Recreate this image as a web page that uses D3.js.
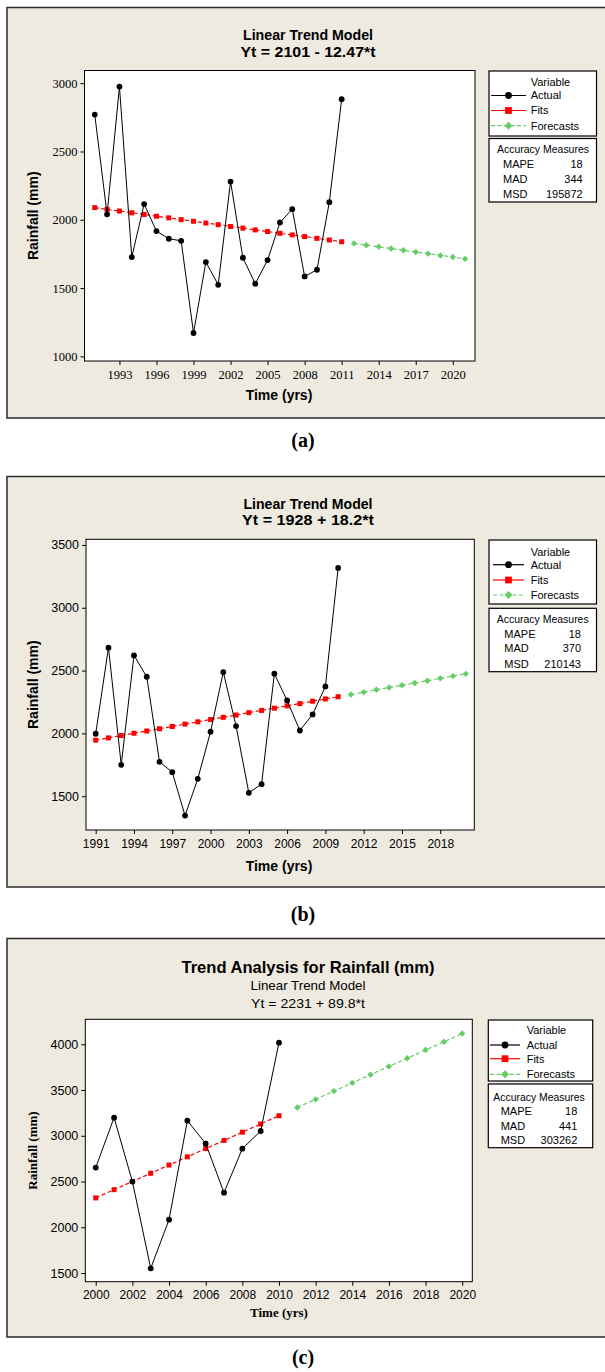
<!DOCTYPE html>
<html><head><meta charset="utf-8">
<script src="https://cdn.jsdelivr.net/npm/d3@7"></script>
<style>body{margin:0;background:#fff} svg{display:block}</style>
</head><body>
<svg id="chart" width="605" height="1372"></svg>
<script>
// ---------------- DATA ----------------
// Panel (a)
const yearsActualA = [1991,1992,1993,1994,1995,1996,1997,1998,1999,2000,2001,2002,2003,2004,2005,2006,2007,2008,2009,2010,2011];
const actualA = [2770,2040,2975,1727,2115,1917,1861,1846,1171,1690,1524,2280,1722,1532,1705,1980,2078,1585,1634,2129,2883];
const fitsA = [2089,2076,2064,2051,2039,2026,2014,2001,1989,1976,1964,1951,1939,1926,1914,1901,1889,1877,1864,1852,1839];
const yearsForecastA = [2012,2013,2014,2015,2016,2017,2018,2019,2020,2021];
const forecastsA = [1827,1814,1802,1789,1777,1764,1752,1739,1727,1714];
const xTicksA = [1993,1996,1999,2002,2005,2008,2011,2014,2017,2020];
const yTicksA = [1000,1500,2000,2500,3000];
const titleA = ["Linear Trend Model", "Yt = 2101 - 12.47*t"];
const accuracyNamesA = ["MAPE","MAD","MSD"];
const accuracyValuesA = ["18","344","195872"];

// Panel (b)
const yearsActualB = [1991,1992,1993,1994,1995,1996,1997,1998,1999,2000,2001,2002,2003,2004,2005,2006,2007,2008,2009,2010];
const actualB = [1997,2682,1750,2621,2451,1774,1691,1346,1638,2013,2488,2058,1527,1596,2475,2262,2023,2151,2374,3317];
const fitsB = [1946,1964,1983,2001,2019,2037,2055,2074,2092,2110,2128,2146,2165,2183,2201,2219,2237,2256,2274,2292];
const yearsForecastB = [2011,2012,2013,2014,2015,2016,2017,2018,2019,2020];
const forecastsB = [2310,2328,2347,2365,2383,2401,2419,2438,2456,2474];
const xTicksB = [1991,1994,1997,2000,2003,2006,2009,2012,2015,2018];
const yTicksB = [1500,2000,2500,3000,3500];
const titleB = ["Linear Trend Model", "Yt = 1928 + 18.2*t"];
const accuracyNamesB = ["MAPE","MAD","MSD"];
const accuracyValuesB = ["18","370","210143"];

// Panel (c)
const yearsActualC = [2000,2001,2002,2003,2004,2005,2006,2007,2008,2009,2010];
const actualC = [2652,3198,2499,1551,2083,3165,2914,2378,2859,3052,4018];
const fitsC = [2321,2411,2500,2590,2680,2770,2860,2949,3039,3129,3219];
const yearsForecastC = [2011,2012,2013,2014,2015,2016,2017,2018,2019,2020];
const forecastsC = [3309,3398,3488,3578,3668,3758,3847,3937,4027,4117];
const xTicksC = [2000,2002,2004,2006,2008,2010,2012,2014,2016,2018,2020];
const yTicksC = [1500,2000,2500,3000,3500,4000];
const titleC = ["Trend Analysis for Rainfall (mm)", "Linear Trend Model", "Yt = 2231 + 89.8*t"];
const accuracyNamesC = ["MAPE","MAD","MSD"];
const accuracyValuesC = ["18","441","303262"];

const seriesNames = ["Actual","Fits","Forecasts"];
const panelLetters = ["(a)","(b)","(c)"];
const yAxisTitle = "Rainfall (mm)";
const xAxisTitle = "Time (yrs)";

// ---------------- STYLE ----------------
const BEIGE = "#EEEAE0";
const RED = "#FF0000";
const GREEN = "#66CC66";
const SANS = "'Liberation Sans', Arial, sans-serif";
const SERIF = "'Liberation Serif', 'Times New Roman', serif";

const svg = d3.select("#chart");

function diamond(h){ return `M0,${-h}L${h},0L0,${h}L${-h},0Z`; }

function drawPanel(p){
  const g = svg.append("g");
  // frame
  g.append("rect").attr("x",7).attr("y",p.frame[0]).attr("width",606).attr("height",p.frame[1]-p.frame[0])
    .attr("fill",BEIGE).attr("stroke","#2b2b2b").attr("stroke-width",1.5);

  // titles
  p.titles.forEach(t=>{
    g.append("text").attr("x",308).attr("y",t.y).attr("text-anchor","middle")
      .attr("font-family",SANS).attr("font-size",t.size).attr("font-weight",t.bold?"bold":"normal")
      .attr("textLength",t.len).attr("lengthAdjust","spacingAndGlyphs")
      .attr("fill","#000").text(t.text);
  });

  const x = d3.scaleLinear().domain(p.xDomain).range([p.plot.x0,p.plot.x1]);
  const y = d3.scaleLinear().domain(p.yDomain).range([p.plot.y1,p.plot.y0]);

  g.append("rect").attr("x",p.plot.x0).attr("y",p.plot.y0)
    .attr("width",p.plot.x1-p.plot.x0).attr("height",p.plot.y1-p.plot.y0).attr("fill","#fff");

  const xa = g.append("g").attr("transform",`translate(0,${p.plot.y1})`)
    .call(d3.axisBottom(x).tickValues(p.xTicks).tickFormat(d3.format("d")).tickSize(4).tickPadding(p.xPad));
  xa.select(".domain").remove();
  xa.selectAll("line").attr("stroke","#000");
  xa.selectAll("text").attr("font-family",p.tickFont).attr("font-size",p.tickSize).attr("fill","#000");

  const ya = g.append("g").attr("transform",`translate(${p.plot.x0},0)`)
    .call(d3.axisLeft(y).tickValues(p.yTicks).tickFormat(d3.format("d")).tickSize(4).tickPadding(p.yPad));
  ya.select(".domain").remove();
  ya.selectAll("line").attr("stroke","#000");
  ya.selectAll("text").attr("font-family",p.tickFont).attr("font-size",p.yTickSize).attr("fill","#000");

  // axis titles
  g.append("text").attr("x",p.xTitle.x).attr("y",p.xTitle.y).attr("text-anchor","middle")
    .attr("font-family",p.axisFont).attr("font-size",p.axisSize).attr("font-weight","bold").text(xAxisTitle);
  g.append("text").attr("transform",`translate(${p.yTitle.x},${(p.plot.y0+p.plot.y1)/2}) rotate(-90)`)
    .attr("text-anchor","middle").attr("font-family",p.axisFont).attr("font-size",p.axisSize)
    .attr("font-weight","bold").text(yAxisTitle);

  const line = d3.line().x(d=>x(d[0])).y(d=>y(d[1]));
  const act = p.actualYears.map((yr,i)=>[yr,p.actual[i]]);
  const fit = p.actualYears.map((yr,i)=>[yr,p.fits[i]]);
  const fc = p.forecastYears.map((yr,i)=>[yr,p.forecasts[i]]);

  g.append("path").datum(fc).attr("d",line).attr("fill","none").attr("stroke",GREEN).attr("stroke-width",1.2).attr("stroke-dasharray","4,2.5");
  g.append("path").datum(fit).attr("d",line).attr("fill","none").attr("stroke",RED).attr("stroke-width",1.2).attr("stroke-dasharray","4,2.5");
  g.selectAll(null).data(fc).enter().append("path").attr("d",diamond(3.2))
    .attr("transform",d=>`translate(${x(d[0])},${y(d[1])})`).attr("fill",GREEN);
  g.selectAll(null).data(fit).enter().append("rect")
    .attr("x",d=>x(d[0])-2.5).attr("y",d=>y(d[1])-2.5).attr("width",5).attr("height",5).attr("fill",RED);
  g.append("path").datum(act).attr("d",line).attr("fill","none").attr("stroke","#000").attr("stroke-width",1);
  g.selectAll(null).data(act).enter().append("circle")
    .attr("cx",d=>x(d[0])).attr("cy",d=>y(d[1])).attr("r",2.9).attr("fill","#000");

  // plot border
  g.append("rect").attr("x",p.plot.x0).attr("y",p.plot.y0)
    .attr("width",p.plot.x1-p.plot.x0).attr("height",p.plot.y1-p.plot.y0)
    .attr("fill","none").attr("stroke","#000").attr("stroke-width",1);

  // legend box 1
  const L = p.legend;
  g.append("rect").attr("x",L.x0).attr("y",L.y0).attr("width",L.x1-L.x0).attr("height",L.h1)
    .attr("fill","#fff").attr("stroke","#000").attr("stroke-width",1.2);
  const lt = (tx,ty,s,anchor)=>g.append("text").attr("x",tx).attr("y",ty+3.9)
    .attr("font-family",SANS).attr("font-size",11).attr("text-anchor",anchor||"start").attr("fill","#000").text(s);
  lt(L.textX, L.y0+L.rows[0], "Variable");
  const colors = ["#000",RED,GREEN];
  seriesNames.forEach((nm,i)=>{
    const ry = L.y0+L.rows[i+1];
    g.append("line").attr("x1",L.lineX0).attr("x2",L.lineX1).attr("y1",ry).attr("y2",ry)
      .attr("stroke",colors[i]).attr("stroke-width",1.2).attr("stroke-dasharray",i===2?"4,2.5":null);
    const mx=(L.lineX0+L.lineX1)/2;
    if(i===0) g.append("circle").attr("cx",mx).attr("cy",ry).attr("r",3.4).attr("fill","#000");
    if(i===1) g.append("rect").attr("x",mx-3.4).attr("y",ry-3.4).attr("width",6.8).attr("height",6.8).attr("fill",RED);
    if(i===2) g.append("path").attr("d",diamond(4)).attr("transform",`translate(${mx},${ry})`).attr("fill",GREEN);
    lt(L.textX, ry, nm);
  });
  // legend box 2
  g.append("rect").attr("x",L.x0).attr("y",L.y2).attr("width",L.x1-L.x0).attr("height",L.h2)
    .attr("fill","#fff").attr("stroke","#000").attr("stroke-width",1.2);
  lt(L.accX, L.y2+L.rows2[0], "Accuracy Measures").attr("textLength",L.accLen).attr("lengthAdjust","spacingAndGlyphs");
  p.accNames.forEach((nm,i)=>{
    lt(L.nameX, L.y2+L.rows2[i+1], nm);
    lt(L.valX, L.y2+L.rows2[i+1], p.accValues[i], "end");
  });

  // panel letter
  svg.append("text").attr("x",p.letter.x).attr("y",p.letter.y).attr("text-anchor","middle")
    .attr("font-family",SERIF).attr("font-size",20).attr("font-weight","bold").text(p.letter.text);
}

drawPanel({
  frame:[7.5,418],
  titles:[{text:titleA[0],y:40,size:14,bold:true,len:130},{text:titleA[1],y:57,size:14,bold:true,len:135}],
  plot:{x0:84.5,x1:475,y0:70.5,y1:361},
  xDomain:[1990.17,2021.8], yDomain:[966,3093],
  xTicks:xTicksA, yTicks:yTicksA, xPad:5, yPad:3,
  tickFont:SERIF, tickSize:12.5, yTickSize:12.5,
  axisFont:SANS, axisSize:14, xTitle:{x:279,y:400}, yTitle:{x:38},
  actualYears:yearsActualA, actual:actualA, fits:fitsA, forecastYears:yearsForecastA, forecasts:forecastsA,
  legend:{x0:489,x1:596.5,y0:71,h1:65,y2:138.5,h2:63.5,rows:[11,24.5,39.5,54.7],rows2:[11,25.7,40.4,56],
          lineX0:491,lineX1:526,textX:530.7,accX:497,nameX:503,valX:582.7,accLen:92},
  accNames:accuracyNamesA, accValues:accuracyValuesA,
  letter:{x:303,y:447,text:panelLetters[0]}
});

drawPanel({
  frame:[476.5,887],
  titles:[{text:titleB[0],y:508.5,size:14,bold:true,len:129},{text:titleB[1],y:525,size:14,bold:true,len:132}],
  plot:{x0:86,x1:474.3,y0:539.3,y1:830},
  xDomain:[1990.24,2020.67], yDomain:[1231,3545],
  xTicks:xTicksB, yTicks:yTicksB, xPad:5, yPad:3,
  tickFont:SANS, tickSize:12, yTickSize:12.5,
  axisFont:SANS, axisSize:14, xTitle:{x:279,y:871}, yTitle:{x:38},
  actualYears:yearsActualB, actual:actualB, fits:fitsB, forecastYears:yearsForecastB, forecasts:forecastsB,
  legend:{x0:489,x1:596.5,y0:540,h1:64,y2:608.3,h2:63.4,rows:[12,24.7,40,55],rows2:[11,26,40,56],
          lineX0:493,lineX1:524,textX:530.7,accX:496.7,nameX:504.3,valX:581,accLen:92},
  accNames:accuracyNamesB, accValues:accuracyValuesB,
  letter:{x:303,y:921,text:panelLetters[1]}
});

drawPanel({
  frame:[938.5,1337],
  titles:[{text:titleC[0],y:973,size:16.5,bold:true,len:253},{text:titleC[1],y:989.5,size:13,bold:false,len:115},{text:titleC[2],y:1008,size:13,bold:false,len:114}],
  plot:{x0:85.3,x1:472.3,y0:1019.3,y1:1281.7},
  xDomain:[1999.43,2020.55], yDomain:[1405,4273],
  xTicks:xTicksC, yTicks:yTicksC, xPad:5, yPad:3,
  tickFont:SANS, tickSize:12, yTickSize:12.5,
  axisFont:SERIF, axisSize:13, xTitle:{x:279,y:1317}, yTitle:{x:37},
  actualYears:yearsActualC, actual:actualC, fits:fitsC, forecastYears:yearsForecastC, forecasts:forecastsC,
  legend:{x0:488.3,x1:592.7,y0:1020,h1:61,y2:1084,h2:63.7,rows:[10,25,38.7,54.3],rows2:[12.7,26.7,41.7,56.3],
          lineX0:490,lineX1:520,textX:526.7,accX:493.3,nameX:500.7,valX:577.3,accLen:91.5},
  accNames:accuracyNamesC, accValues:accuracyValuesC,
  letter:{x:303,y:1364,text:panelLetters[2]}
});
</script>
</body></html>
